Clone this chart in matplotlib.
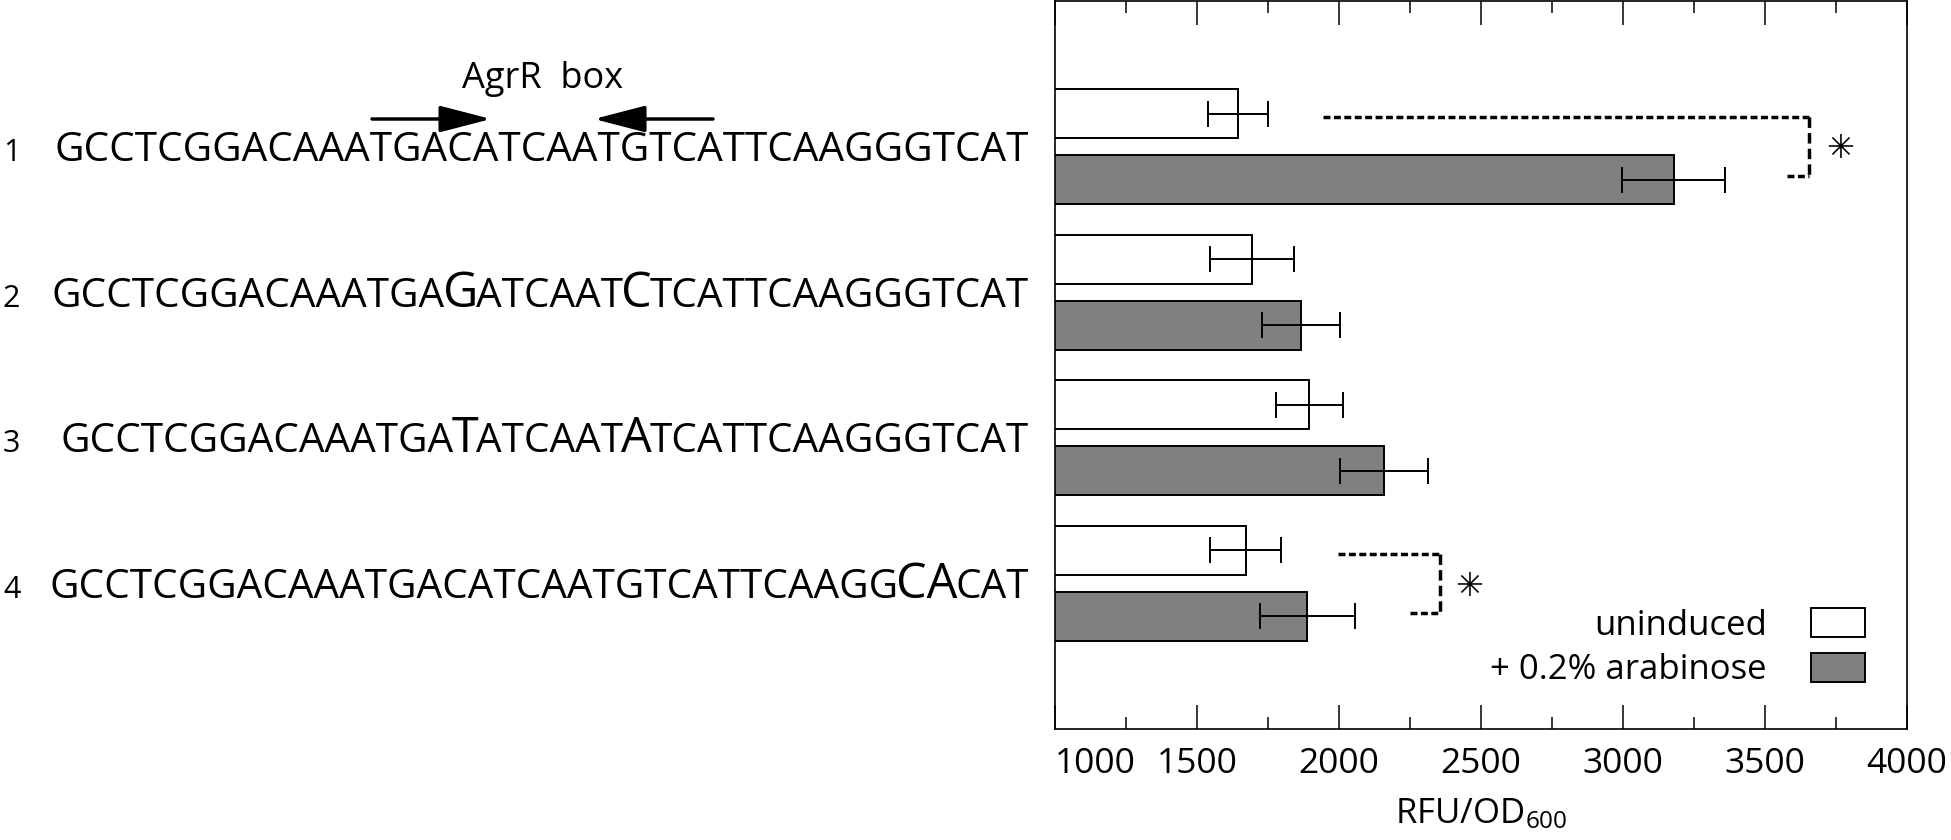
import matplotlib
matplotlib.use("Agg")
import matplotlib.pyplot as plt
from matplotlib.patches import Patch
from matplotlib.ticker import MultipleLocator
from matplotlib.transforms import IdentityTransform

plt.rcParams['font.family'] = ['Open Sans', 'DejaVu Sans']
plt.rcParams['mathtext.fontset'] = 'custom'
plt.rcParams['mathtext.rm'] = 'Open Sans'
plt.rcParams['mathtext.it'] = 'Open Sans:italic'
plt.rcParams['mathtext.bf'] = 'Open Sans:bold'

# promoter variants, mutated bases are drawn larger
row_ids = ['1', '2', '3', '4']
sequences = ['GCCTCGGACAAATGACATCAATGTCATTCAAGGGTCAT',
             'GCCTCGGACAAATGAGATCAATCTCATTCAAGGGTCAT',
             'GCCTCGGACAAATGATATCAATATCATTCAAGGGTCAT',
             'GCCTCGGACAAATGACATCAATGTCATTCAAGGCACAT']
mutated = [[], [15, 22], [15, 22], [33, 34]]

# fluorescence (RFU/OD600)
groups = [1, 2, 3, 4]
uninduced = [1644, 1695, 1895, 1672]
uninduced_err = [107, 148, 118, 125]
arabinose = [3178, 1866, 2159, 1889]
arabinose_err = [182, 138, 154, 168]

# significance brackets: (long arm start, vertical x, short arm start), (y top, y bottom)
sig_x = [(1944, 3656, 3579), (1995, 2355, 2251)]
sig_y = [(0.80, 1.205), (3.80, 4.205)]
star_pos = [(3764, 1.01), (2457, 4.02)]

W, H, DPI = 1951, 840, 100
fig = plt.figure(figsize=(W / DPI, H / DPI), dpi=DPI)
ax = fig.add_axes([1055 / W, 1 - 729 / H, (1907 - 1055) / W, 728 / H])

off, bh = 0.226, 0.336
y_un = [g - off for g in groups]
y_ar = [g + off for g in groups]
ax.barh(y_un, uninduced, height=bh, color='white', edgecolor='black', linewidth=1.4)
ax.barh(y_ar, arabinose, height=bh, color='#808080', edgecolor='black', linewidth=1.4)
ax.errorbar(uninduced, y_un, xerr=uninduced_err, fmt='none', ecolor='black',
            elinewidth=1.4, capsize=9.4, capthick=1.4)
ax.errorbar(arabinose, y_ar, xerr=arabinose_err, fmt='none', ecolor='black',
            elinewidth=1.4, capsize=9.4, capthick=1.4)

for (xa, xv, xb), (yt, yb) in zip(sig_x, sig_y):
    ax.plot([xa, xv], [yt, yt], color='black', lw=2.5, ls=(0, (2, 1)))
    ax.plot([xv, xv], [yt, yb], color='black', lw=2.5, ls=(0, (3, 1.5)))
    ax.plot([xb, xv], [yb, yb], color='black', lw=2.5, ls=(0, (2, 1)))
for xs, ys in star_pos:
    ax.text(xs, ys, '\u2733', fontsize=24, family='DejaVu Sans', ha='center', va='center')

ax.set_xlim(1000, 4000)
ax.set_ylim(5, 0)
ax.set_yticks([])
ax.set_xticks([1000, 1500, 2000, 2500, 3000, 3500, 4000])
ax.xaxis.set_minor_locator(MultipleLocator(250))
ax.tick_params(axis='x', which='both', direction='in', top=True, bottom=True,
               width=1.1, labelsize=25.5, pad=13)
ax.tick_params(axis='x', which='major', length=17)
ax.tick_params(axis='x', which='minor', length=8.5)
ax.get_xticklabels()[0].set_horizontalalignment('left')
for s in ax.spines.values():
    s.set_linewidth(1.2)
ax.set_xlabel('RFU/OD$_{600}$', fontsize=25, labelpad=11)

handles = [Patch(facecolor='white', edgecolor='black', linewidth=1.4),
           Patch(facecolor='#808080', edgecolor='black', linewidth=1.4)]
ax.legend(handles, ['uninduced', '+ 0.2% arabinose'], loc='lower right', frameon=False,
          markerfirst=False, fontsize=25, handlelength=1.57, handleheight=0.89,
          handletextpad=1.26, labelspacing=0.3, borderpad=0, borderaxespad=1.2)

# sequences on the left, right aligned, one row per bar group
fig.canvas.draw()
r = fig.canvas.get_renderer()
for rid, seq, muts, g in zip(row_ids, sequences, mutated, groups):
    base = ax.transData.transform((2000, g))[1] - 14.5
    runs = []
    for j, ch in enumerate(seq):
        big = j in muts
        if runs and runs[-1][1] == big:
            runs[-1][0] += ch
        else:
            runs.append([ch, big])
    x = 1029
    for txt, big in reversed(runs):
        t = fig.text(x, base, txt, transform=IdentityTransform(), ha='right', va='baseline',
                     fontsize=35 if big else 29.2)
        x = t.get_window_extent(r).x0 + 2
    fig.text(3, base, rid, transform=IdentityTransform(), ha='left', va='baseline', fontsize=22)

fig.text(543 / W, 1 - 88 / H, 'AgrR  box', ha='center', va='baseline', fontsize=26)
arrow = dict(arrowstyle='-|>,head_length=1.58,head_width=0.41', mutation_scale=20,
             lw=2.5, color='black', shrinkA=0, shrinkB=0)
ax.annotate('', xy=(491, H - 119), xytext=(372, H - 119), xycoords='figure pixels',
            textcoords='figure pixels', arrowprops=arrow, annotation_clip=False)
ax.annotate('', xy=(594, H - 119), xytext=(713, H - 119), xycoords='figure pixels',
            textcoords='figure pixels', arrowprops=arrow, annotation_clip=False)

fig.savefig('out.png', dpi=DPI)
